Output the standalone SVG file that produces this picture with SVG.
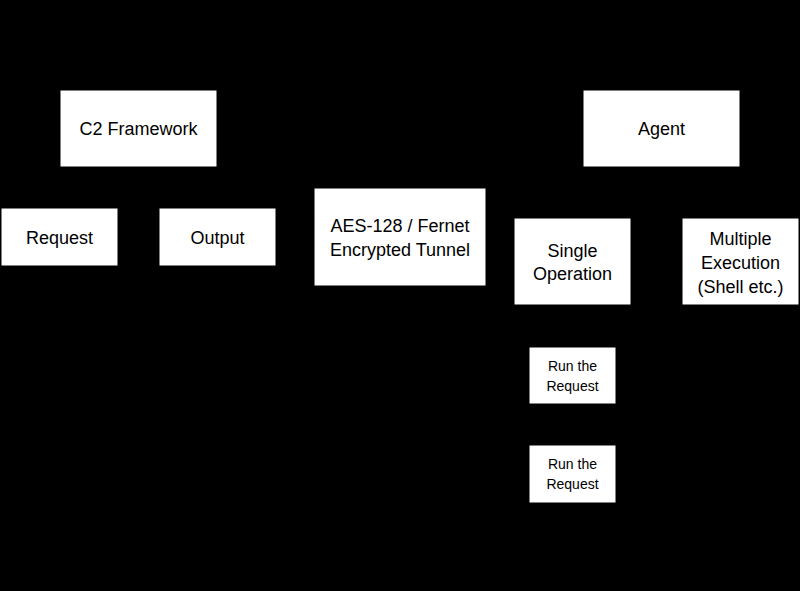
<svg xmlns="http://www.w3.org/2000/svg" width="800" height="591" viewBox="0 0 800 591">
<style>
rect.n{fill:#fff;stroke:#000;stroke-width:1}
text{font-family:"Liberation Sans",Arial,sans-serif;font-size:18px;fill:#000;text-anchor:middle}
text.s{font-size:14px}
</style>
<rect width="800" height="591" fill="#000"/>
<g id="connectors"></g>
<g id="c2"><rect class="n" x="60" y="90" width="157" height="77"/><text x="138.5" y="135">C2 Framework</text></g>
<g id="agent"><rect class="n" x="583" y="90" width="157" height="77"/><text x="661.5" y="135">Agent</text></g>
<g id="request"><rect class="n" x="1" y="208" width="117" height="58"/><text x="59.5" y="244">Request</text></g>
<g id="output"><rect class="n" x="159" y="208" width="117" height="58"/><text x="217.5" y="244">Output</text></g>
<g id="tunnel"><rect class="n" x="314" y="188" width="172" height="98"/><text x="400" y="232">AES-128 / Fernet</text><text x="400" y="256">Encrypted Tunnel</text></g>
<g id="single"><rect class="n" x="514" y="218" width="117" height="87"/><text x="572.5" y="257">Single</text><text x="572.5" y="280">Operation</text></g>
<g id="multiple"><rect class="n" x="682" y="218" width="117" height="87"/><text x="740.5" y="245">Multiple</text><text x="740.5" y="269">Execution</text><text x="740.5" y="293">(Shell etc.)</text></g>
<g id="run1"><rect class="n" x="529" y="347" width="87" height="57"/><text class="s" x="572.5" y="371">Run the</text><text class="s" x="572.5" y="391">Request</text></g>
<g id="run2"><rect class="n" x="529" y="445" width="87" height="58"/><text class="s" x="572.5" y="469">Run the</text><text class="s" x="572.5" y="489">Request</text></g>
</svg>
